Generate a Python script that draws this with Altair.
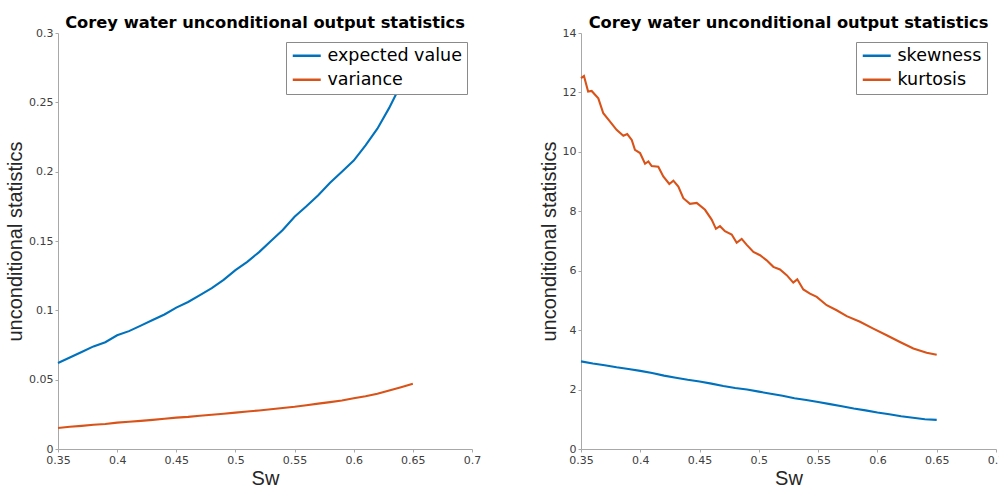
import altair as alt
import pandas as pd

# Water saturation grid shared by most series
sw = [0.35, 0.36, 0.37, 0.38, 0.39, 0.40, 0.41, 0.42, 0.43, 0.44, 0.45,
      0.46, 0.47, 0.48, 0.49, 0.50, 0.51, 0.52, 0.53, 0.54, 0.55, 0.56,
      0.57, 0.58, 0.59, 0.60, 0.61, 0.62, 0.63, 0.64, 0.65]

expected_value = [0.062, 0.066, 0.070, 0.074, 0.077, 0.082, 0.085, 0.089, 0.093,
                  0.097, 0.102, 0.106, 0.111, 0.116, 0.122, 0.129, 0.135, 0.142,
                  0.150, 0.158, 0.1675, 0.175, 0.183, 0.192, 0.200, 0.208, 0.219,
                  0.231, 0.246, 0.263, 0.283]

variance = [0.0152, 0.0160, 0.0167, 0.0175, 0.0180, 0.0190, 0.0197, 0.0203, 0.0210,
            0.0218, 0.0226, 0.0232, 0.0240, 0.0247, 0.0254, 0.0262, 0.0270, 0.0278,
            0.0287, 0.0296, 0.0305, 0.0316, 0.0327, 0.0338, 0.0350, 0.0366, 0.0381,
            0.0398, 0.0422, 0.0445, 0.0470]

skewness = [2.95, 2.88, 2.82, 2.75, 2.69, 2.63, 2.56, 2.47, 2.40, 2.33, 2.27,
            2.20, 2.12, 2.05, 2.00, 1.93, 1.86, 1.79, 1.71, 1.65, 1.58, 1.51,
            1.44, 1.36, 1.30, 1.23, 1.17, 1.10, 1.05, 1.00, 0.98]

# Kurtosis is noisier, so it is sampled more densely
sw_kurt = [0.350, 0.3525, 0.356, 0.359, 0.3646, 0.3688, 0.3745, 0.380, 0.3857, 0.389,
           0.3928, 0.3955, 0.3998, 0.404, 0.4068, 0.4096, 0.4152, 0.4194, 0.4245, 0.4279,
           0.4321, 0.4363, 0.4419, 0.4476, 0.4546, 0.4602, 0.4638, 0.4672, 0.4714, 0.4771,
           0.4813, 0.4855, 0.4898, 0.4954, 0.501, 0.5066, 0.5122, 0.5178, 0.5235, 0.529,
           0.5324, 0.5375, 0.5431, 0.5488, 0.5572, 0.5656, 0.5741, 0.5853, 0.5965, 0.6078,
           0.619, 0.6303, 0.6415, 0.650]
kurtosis = [12.48, 12.55, 12.03, 12.05, 11.80, 11.30, 11.02, 10.74, 10.54, 10.60,
            10.40, 10.07, 9.96, 9.60, 9.68, 9.52, 9.50, 9.17, 8.92, 9.03,
            8.83, 8.44, 8.25, 8.28, 8.05, 7.72, 7.41, 7.50, 7.33, 7.22,
            6.94, 7.07, 6.87, 6.63, 6.52, 6.35, 6.13, 6.04, 5.85, 5.60,
            5.71, 5.37, 5.23, 5.12, 4.84, 4.67, 4.47, 4.28, 4.05, 3.83,
            3.60, 3.38, 3.24, 3.17]

x_ticks = [0.35, 0.4, 0.45, 0.5, 0.55, 0.6, 0.65, 0.7]
y_ticks_left = [0, 0.05, 0.1, 0.15, 0.2, 0.25, 0.3]
y_ticks_right = [0, 2, 4, 6, 8, 10, 12, 14]

TITLE = "Corey water unconditional output statistics"
BLUE = "#0072BD"
ORANGE = "#D95319"
SANS = "Liberation Sans"
WIDE = "DejaVu Sans"


def long_frame(pairs):
    rows = []
    for name, xs, ys in pairs:
        for xv, yv in zip(xs, ys):
            rows.append({"sw": xv, "value": yv, "series": name})
    return pd.DataFrame(rows)


def panel(df, names, y_domain, y_ticks, legend_x, width):
    return (
        alt.Chart(df)
        .mark_line(strokeWidth=2.1)
        .encode(
            x=alt.X("sw:Q",
                    scale=alt.Scale(domain=[0.35, 0.7], nice=False, zero=False),
                    axis=alt.Axis(values=x_ticks, format="~g", title="Sw")),
            y=alt.Y("value:Q",
                    scale=alt.Scale(domain=y_domain, nice=False, zero=False),
                    axis=alt.Axis(values=y_ticks, format="~g",
                                  title="unconditional statistics")),
            color=alt.Color("series:N",
                            scale=alt.Scale(domain=names, range=[BLUE, ORANGE]),
                            legend=alt.Legend(orient="none", legendX=legend_x,
                                              legendY=9, title=None)),
        )
        .properties(
            width=width, height=416,
            title=alt.TitleParams(TITLE, fontSize=16.3, fontWeight="bold",
                                  font=WIDE, color="#000000", offset=-4,
                                  frame="group"),
        )
    )


left = panel(
    long_frame([("expected value", sw, expected_value), ("variance", sw, variance)]),
    ["expected value", "variance"], [0, 0.3], y_ticks_left, 228, 414)

right = panel(
    long_frame([("skewness", sw, skewness), ("kurtosis", sw_kurt, kurtosis)]),
    ["skewness", "kurtosis"], [0, 14], y_ticks_right, 275, 415)

chart = (
    alt.hconcat(left, right, spacing=58)
    .resolve_scale(color="independent")
    .resolve_legend(color="independent")
    .properties(padding={"left": 5, "top": 14, "right": -6, "bottom": 0},
                background="white")
    .configure_view(stroke=None)
    .configure_axis(
        grid=False, domainColor="#a8a8a8", tickColor="#a8a8a8", tickSize=3,
        labelFont=WIDE, labelFontSize=11, labelColor="#404040", labelPadding=2,
        titleFont=SANS, titleFontSize=20, titleFontWeight="normal",
        titleColor="#262626", labelFlush=False,
    )
    .configure_axisY(titlePadding=3)
    .configure_axisX(titlePadding=3)
    .configure_legend(
        strokeColor="#8a8a8a", fillColor="white", padding=5, cornerRadius=0,
        symbolType="M-1,0H3", symbolSize=196, symbolStrokeWidth=2.5,
        labelFont=WIDE, labelFontSize=17.5, labelColor="#000000",
        labelLimit=300, rowPadding=5, labelOffset=19,
    )
)

chart.save("out.html", embed_options={"renderer": "svg", "actions": False})
